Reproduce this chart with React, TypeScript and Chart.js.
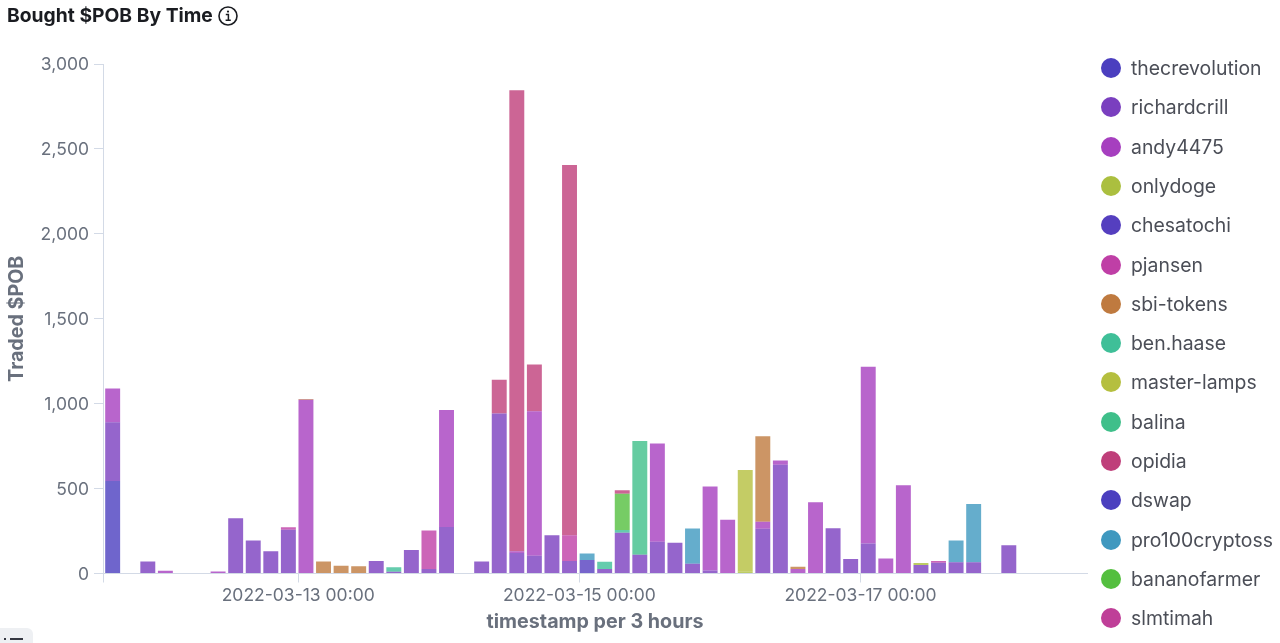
import { useEffect, useRef } from "react";
import { Chart, registerables } from "chart.js";

Chart.register(...registerables);

// one bucket per 3 hours, the first one starts 2022-03-11 15:00
const xMin = -0.11;
const xMax = 55.89;
const tickBuckets = [xMin, 11, 27, 43];
const tickLabels = ["", "2022-03-13 00:00", "2022-03-15 00:00", "2022-03-17 00:00"];
const yTicks = [0, 500, 1000, 1500, 2000, 2500, 3000];

const legendNames = [
  "thecrevolution", "richardcrill", "andy4475", "onlydoge", "chesatochi",
  "pjansen", "sbi-tokens", "ben.haase", "master-lamps", "balina",
  "opidia", "dswap", "pro100cryptoss", "bananofarmer", "slmtimah",
];
const legendColors = [
  "#4b3fbf", "#7a3fbf", "#a63fbf", "#abbf3f", "#553fbf",
  "#bf3fa6", "#bf7a3f", "#3fbf98", "#b5bf3f", "#3fbf8a",
  "#bf3f7a", "#4b3fbf", "#3f98bf", "#54bf3f", "#bf3f98",
];

const thecrevolution = [545, 0, 0, 0, 0, 0, 0, 0, 0, 0, 0, 0, 0, 0, 0, 0, 0, 0, 0, 0, 0, 0, 0, 0, 0, 0, 0, 0, 0, 0, 0, 0, 0, 0, 0, 0, 0, 0, 0, 0, 0, 0, 0, 0, 0, 0, 0, 0, 0, 0, 0, 0, 0, 0, 0, 0];
const richardcrill = [345, 0, 70, 0, 0, 0, 0, 325, 195, 131, 258, 0, 0, 0, 0, 74, 10, 139, 27, 274, 0, 70, 942, 121, 105, 225, 74, 0, 26, 240, 111, 187, 181, 58, 18, 0, 0, 264, 640, 0, 0, 266, 86, 177, 0, 0, 50, 63, 66, 66, 0, 166, 0, 0, 0, 0];
const andy4475 = [200, 0, 0, 16, 0, 0, 12, 0, 0, 0, 0, 1023, 0, 0, 0, 0, 0, 0, 0, 689, 0, 0, 0, 10, 851, 0, 0, 0, 0, 0, 0, 579, 0, 0, 495, 316, 0, 40, 25, 26, 420, 0, 0, 1040, 89, 519, 0, 0, 0, 0, 0, 0, 0, 0, 0, 0];
const onlydoge = [0, 0, 0, 0, 0, 0, 0, 0, 0, 0, 0, 0, 0, 0, 0, 0, 0, 0, 0, 0, 0, 0, 0, 0, 0, 0, 0, 0, 0, 0, 0, 0, 0, 0, 0, 0, 10, 0, 0, 0, 0, 0, 0, 0, 0, 0, 12, 0, 0, 0, 0, 0, 0, 0, 0, 0];
const chesatochi = [0, 0, 0, 0, 0, 0, 0, 0, 0, 0, 0, 0, 0, 0, 0, 0, 0, 0, 0, 0, 0, 0, 0, 0, 0, 0, 0, 79, 0, 0, 0, 0, 0, 0, 0, 0, 0, 0, 0, 0, 0, 0, 0, 0, 0, 0, 0, 0, 0, 0, 0, 0, 0, 0, 0, 0];
const pjansen = [0, 0, 0, 0, 0, 0, 0, 0, 0, 0, 14, 0, 0, 0, 0, 0, 0, 0, 226, 0, 0, 0, 0, 0, 0, 0, 151, 0, 0, 0, 0, 0, 0, 0, 0, 0, 0, 0, 0, 0, 0, 0, 0, 0, 0, 0, 0, 10, 0, 0, 0, 0, 0, 0, 0, 0];
const sbiTokens = [0, 0, 0, 0, 0, 0, 0, 0, 0, 0, 0, 4, 70, 46, 42, 0, 0, 0, 0, 0, 0, 0, 0, 0, 0, 0, 0, 0, 0, 0, 0, 0, 0, 0, 0, 0, 0, 504, 0, 14, 0, 0, 0, 0, 0, 0, 0, 0, 0, 0, 0, 0, 0, 0, 0, 0];
const benHaase = [0, 0, 0, 0, 0, 0, 0, 0, 0, 0, 0, 0, 0, 0, 0, 0, 27, 0, 0, 0, 0, 0, 0, 0, 0, 0, 0, 0, 43, 16, 0, 0, 0, 0, 0, 0, 0, 0, 0, 0, 0, 0, 0, 0, 0, 0, 0, 0, 0, 0, 0, 0, 0, 0, 0, 0];
const masterLamps = [0, 0, 0, 0, 0, 0, 0, 0, 0, 0, 0, 0, 0, 0, 0, 0, 0, 0, 0, 0, 0, 0, 0, 0, 0, 0, 0, 0, 0, 0, 0, 0, 0, 0, 0, 0, 600, 0, 0, 0, 0, 0, 0, 0, 0, 0, 0, 0, 0, 0, 0, 0, 0, 0, 0, 0];
const balina = [0, 0, 0, 0, 0, 0, 0, 0, 0, 0, 0, 0, 0, 0, 0, 0, 0, 0, 0, 0, 0, 0, 0, 0, 0, 0, 0, 0, 0, 0, 669, 0, 0, 0, 0, 0, 0, 0, 0, 0, 0, 0, 0, 0, 0, 0, 0, 0, 0, 0, 0, 0, 0, 0, 0, 0];
const opidia = [0, 0, 0, 0, 0, 0, 0, 0, 0, 0, 0, 0, 0, 0, 0, 0, 0, 0, 0, 0, 0, 0, 199, 2714, 275, 0, 2180, 0, 0, 21, 0, 0, 0, 0, 0, 0, 0, 0, 0, 0, 0, 0, 0, 0, 0, 0, 0, 0, 0, 0, 0, 0, 0, 0, 0, 0];
const dswap = [0, 0, 0, 0, 0, 0, 0, 0, 0, 0, 0, 0, 0, 0, 0, 0, 0, 0, 0, 0, 0, 0, 0, 0, 0, 0, 0, 0, 0, 0, 0, 0, 0, 0, 0, 0, 0, 0, 0, 0, 0, 0, 0, 0, 0, 0, 0, 0, 0, 0, 0, 0, 0, 0, 0, 0];
const pro100cryptoss = [0, 0, 0, 0, 0, 0, 0, 0, 0, 0, 0, 0, 0, 0, 0, 0, 0, 0, 0, 0, 0, 0, 0, 0, 0, 0, 0, 39, 0, 0, 0, 0, 0, 207, 0, 0, 0, 0, 0, 0, 0, 0, 0, 0, 0, 0, 0, 0, 128, 343, 0, 0, 0, 0, 0, 0];
const bananofarmer = [0, 0, 0, 0, 0, 0, 0, 0, 0, 0, 0, 0, 0, 0, 0, 0, 0, 0, 0, 0, 0, 0, 0, 0, 0, 0, 0, 0, 0, 213, 0, 0, 0, 0, 0, 0, 0, 0, 0, 0, 0, 0, 0, 0, 0, 0, 0, 0, 0, 0, 0, 0, 0, 0, 0, 0];
const slmtimah = [0, 0, 0, 0, 0, 0, 0, 0, 0, 0, 0, 0, 0, 0, 0, 0, 0, 0, 0, 0, 0, 0, 0, 0, 0, 0, 0, 0, 0, 0, 0, 0, 0, 0, 0, 0, 0, 0, 0, 0, 0, 0, 0, 0, 0, 0, 0, 0, 0, 0, 0, 0, 0, 0, 0, 0];

const seriesValues = [
  thecrevolution, richardcrill, andy4475, onlydoge, chesatochi,
  pjansen, sbiTokens, benHaase, masterLamps, balina,
  opidia, dswap, pro100cryptoss, bananofarmer, slmtimah,
];

const FONT = "Inter";
const AXIS_COLOR = "#d3dae6";
const TEXT_COLOR = "#69707d";

export default function App() {
  const chartRef = useRef<HTMLCanvasElement>(null);

  useEffect(() => {
    if (!chartRef.current) return;

    const datasets = seriesValues.map((values, s) => ({
      label: legendNames[s],
      // the bars sit at the start of their bucket, so the left edge lands on the tick
      data: values.map((y, i) => ({ x: i + 0.44, y })).filter((p) => p.y > 0),
      backgroundColor: legendColors[s] + "cc",
      borderWidth: 0,
      barPercentage: 0.85,
      categoryPercentage: 1,
      order: legendNames[s] === "opidia" ? 1 : 0,
    }));

    const chart = new Chart(chartRef.current, {
      type: "bar",
      data: { datasets },
      options: {
        animation: false,
        responsive: false,
        layout: { padding: { top: 64, right: 193, left: 0, bottom: 0 } },
        plugins: { legend: { display: false }, tooltip: { enabled: false } },
        scales: {
          x: {
            type: "linear",
            stacked: true,
            offset: false,
            min: xMin,
            max: xMax,
            afterBuildTicks: (scale: any) => {
              scale.ticks = tickBuckets.map((value) => ({ value }));
            },
            afterFit: (scale: any) => {
              scale.height = 69.5;
            },
            grid: { offset: false, drawOnChartArea: false, color: AXIS_COLOR, tickLength: 9 },
            border: { color: AXIS_COLOR },
            ticks: {
              autoSkip: false,
              maxRotation: 0,
              padding: 3,
              color: TEXT_COLOR,
              font: { family: FONT, size: 17.5 },
              callback: (value: any) => tickLabels[tickBuckets.indexOf(Number(value))],
            },
            title: {
              display: true,
              text: "timestamp per 3 hours",
              color: TEXT_COLOR,
              font: { family: FONT, size: 19.7, weight: "bold" },
              padding: { top: 0, bottom: 9 },
            },
          },
          y: {
            stacked: true,
            min: 0,
            max: 3000,
            afterBuildTicks: (scale: any) => {
              scale.ticks = yTicks.map((value) => ({ value }));
            },
            afterFit: (scale: any) => {
              scale.width = 103;
            },
            grid: { drawOnChartArea: false, color: AXIS_COLOR, tickLength: 9 },
            border: { color: AXIS_COLOR },
            ticks: {
              padding: 5,
              labelOffset: 1,
              color: TEXT_COLOR,
              font: { family: FONT, size: 17.5 },
              callback: (value: any) => Number(value).toLocaleString("en-US"),
            },
            title: {
              display: true,
              text: "Traded $POB",
              color: TEXT_COLOR,
              font: { family: FONT, size: 19.7, weight: "bold" },
              padding: { top: 5, bottom: 0 },
            },
          },
        },
      },
    });

    return () => chart.destroy();
  }, []);

  return (
    <div style={{ position: "relative", width: 1280, height: 643, overflow: "hidden", background: "#fff", fontFamily: FONT }}>
      <style>{"body { margin: 0; }"}</style>
      <canvas ref={chartRef} width={1280} height={643} style={{ position: "absolute", left: 0, top: 0 }} />

      <div style={{ position: "absolute", left: 7, top: 3, fontSize: 19.3, lineHeight: "24px", fontWeight: 700, color: "#1a1c21", whiteSpace: "nowrap" }}>
        Bought $POB By Time
      </div>
      <svg width="22" height="22" viewBox="0 0 22 22" style={{ position: "absolute", left: 217, top: 5 }}>
        <circle cx="11" cy="11" r="9" fill="none" stroke="#1a1c21" strokeWidth="1.6" />
        <path d="M8.8 9.6h2.6v5.4M8.6 15.2h5.2" fill="none" stroke="#1a1c21" strokeWidth="1.5" />
        <circle cx="11" cy="6.6" r="1.1" fill="#1a1c21" />
      </svg>

      {legendNames.map((name, i) => (
        <div
          key={name}
          style={{ position: "absolute", left: 1101, top: 48.5 + i * 39.3, height: 39, display: "flex", alignItems: "center" }}
        >
          <span style={{ width: 20, height: 20, borderRadius: "50%", background: legendColors[i], marginRight: 10 }} />
          <span style={{ fontSize: 19.4, color: "#4b4e57", whiteSpace: "nowrap" }}>{name}</span>
        </div>
      ))}

      <div style={{ position: "absolute", left: 0, top: 628, width: 33, height: 15, background: "#eef0f3", borderTopRightRadius: 6 }}>
        <div style={{ position: "absolute", left: 4, top: 10, width: 2, height: 2, background: "#343741" }} />
        <div style={{ position: "absolute", left: 10, top: 10, width: 13, height: 2, background: "#343741" }} />
      </div>
    </div>
  );
}
